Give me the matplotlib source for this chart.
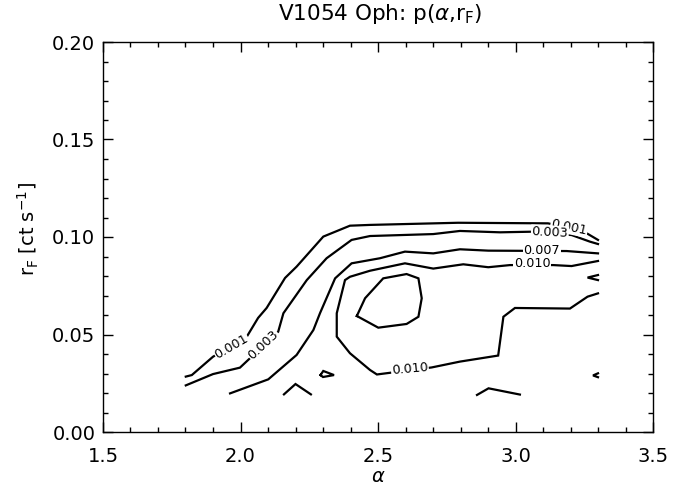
import matplotlib
matplotlib.use('Agg')
import matplotlib.pyplot as plt
from matplotlib.ticker import MultipleLocator, FormatStrFormatter

plt.rcParams['font.family'] = 'DejaVu Sans'
plt.rcParams['mathtext.fontset'] = 'dejavusans'

# contour levels (probability)
levels = [0.001, 0.003, 0.007, 0.010]

# level 0.001
alpha_001 = [1.801, 1.823, 1.900, 2.023, 2.064, 2.095, 2.162, 2.204, 2.301, 2.398,
             2.471, 2.791, 3.118, 3.195, 3.259, 3.300]
rf_001 = [0.0284, 0.0292, 0.0386, 0.0489, 0.0585, 0.0636, 0.0790, 0.0848, 0.1002, 0.1058,
          0.1062, 0.1073, 0.1070, 0.1049, 0.1019, 0.0985]

# level 0.003
alpha_003 = [1.801, 1.900, 1.998, 2.137, 2.156, 2.241, 2.313, 2.404, 2.471, 2.701,
             2.798, 2.944, 3.053, 3.204, 3.271, 3.300]
rf_003 = [0.0239, 0.0297, 0.0330, 0.0514, 0.0609, 0.0779, 0.0891, 0.0985, 0.1005, 0.1015,
          0.1031, 0.1024, 0.1027, 0.1010, 0.0976, 0.0964]

# level 0.007
alpha_007 = [1.962, 2.101, 2.204, 2.265, 2.289, 2.344, 2.404, 2.507, 2.598, 2.701,
             2.798, 2.901, 3.186, 3.300]
rf_007 = [0.0198, 0.0270, 0.0395, 0.0523, 0.0609, 0.0788, 0.0865, 0.0891, 0.0925, 0.0916,
          0.0937, 0.0930, 0.0928, 0.0916]

# level 0.010
alpha_010 = [3.300, 3.204, 3.137, 2.980, 2.901, 2.810, 2.701, 2.598, 2.471, 2.398,
             2.380, 2.350, 2.350, 2.398, 2.471, 2.496, 2.695, 2.798, 2.937, 2.956,
             2.998, 3.198, 3.262, 3.300]
rf_010 = [0.0877, 0.0851, 0.0856, 0.0856, 0.0845, 0.0860, 0.0838, 0.0865, 0.0827, 0.0796,
          0.0779, 0.0609, 0.0489, 0.0404, 0.0318, 0.0295, 0.0331, 0.0361, 0.0392, 0.0591,
          0.0636, 0.0633, 0.0694, 0.0711]

# unlabeled pieces (higher level / noise islands)
alpha_peak = [2.423, 2.453, 2.519, 2.604, 2.647, 2.659, 2.647, 2.604, 2.501, 2.423]
rf_peak = [0.0595, 0.0686, 0.0788, 0.0810, 0.0788, 0.0686, 0.0591, 0.0554, 0.0535, 0.0595]

alpha_tri = [2.291, 2.301, 2.340, 2.300, 2.291]
rf_tri = [0.0292, 0.0313, 0.0292, 0.0282, 0.0292]

alpha_caret = [2.158, 2.200, 2.256]
rf_caret = [0.0193, 0.0246, 0.0193]

alpha_low = [2.860, 2.902, 3.016]
rf_low = [0.0190, 0.0224, 0.0192]

alpha_edge1 = [3.300, 3.262, 3.300]
rf_edge1 = [0.0805, 0.0792, 0.0779]

alpha_edge2 = [3.300, 3.282, 3.300]
rf_edge2 = [0.0301, 0.0290, 0.0281]

# contour labels: (text, alpha, rf, rotation)
clabels = [('0.001', 1.968, 0.0437, 30),
           ('0.003', 2.083, 0.0446, 43),
           ('0.001', 3.195, 0.1051, -12),
           ('0.003', 3.125, 0.1023, -3),
           ('0.007', 3.095, 0.0931, 0),
           ('0.010', 3.060, 0.0862, 0),
           ('0.010', 2.616, 0.0321, 5)]

fig = plt.figure(figsize=(6.85, 4.87), dpi=100)
ax = fig.add_axes([103 / 685, 1 - 432 / 487, 550 / 685, 390 / 487])

lines = [(alpha_001, rf_001), (alpha_003, rf_003), (alpha_007, rf_007), (alpha_010, rf_010),
         (alpha_peak, rf_peak), (alpha_tri, rf_tri), (alpha_caret, rf_caret),
         (alpha_low, rf_low), (alpha_edge1, rf_edge1), (alpha_edge2, rf_edge2)]
for xs, ys in lines:
    ax.plot(xs, ys, color='black', lw=1.6, solid_joinstyle='miter', zorder=2)

for txt, xa, yr, rot in clabels:
    ax.text(xa, yr, txt, fontsize=9.2, ha='center', va='center', rotation=rot,
            rotation_mode='anchor', zorder=3,
            bbox=dict(facecolor='white', edgecolor='none', pad=0.5))

ax.set_xlim(1.5, 3.5)
ax.set_ylim(0.0, 0.2)
ax.xaxis.set_major_locator(MultipleLocator(0.5))
ax.xaxis.set_minor_locator(MultipleLocator(0.1))
ax.yaxis.set_major_locator(MultipleLocator(0.05))
ax.yaxis.set_minor_locator(MultipleLocator(0.01))
ax.xaxis.set_major_formatter(FormatStrFormatter('%.1f'))
ax.yaxis.set_major_formatter(FormatStrFormatter('%.2f'))
ax.tick_params(which='both', direction='in', top=True, right=True, width=1.0)
ax.tick_params(which='major', length=7.2, labelsize=14)
ax.tick_params(axis='x', which='major', pad=11)
ax.tick_params(axis='y', which='major', pad=5.5)
ax.tick_params(which='minor', length=3.6)
for s in ax.spines.values():
    s.set_linewidth(1.0)

fig.text(380 / 685, 1 - 20 / 487, r'V1054 Oph: p($\alpha$,r$_\mathregular{F}$)',
         fontsize=15.5, ha='center', va='baseline')
fig.text(28 / 685, 1 - 229 / 487, r'r$_\mathregular{F}$ [ct s$^{-1}$]',
         fontsize=14, rotation=90, ha='center', va='center')
fig.text(378 / 685, 1 - 477 / 487, r'$\alpha$', fontsize=14, ha='center', va='center')

plt.savefig('out.png', dpi=100)
